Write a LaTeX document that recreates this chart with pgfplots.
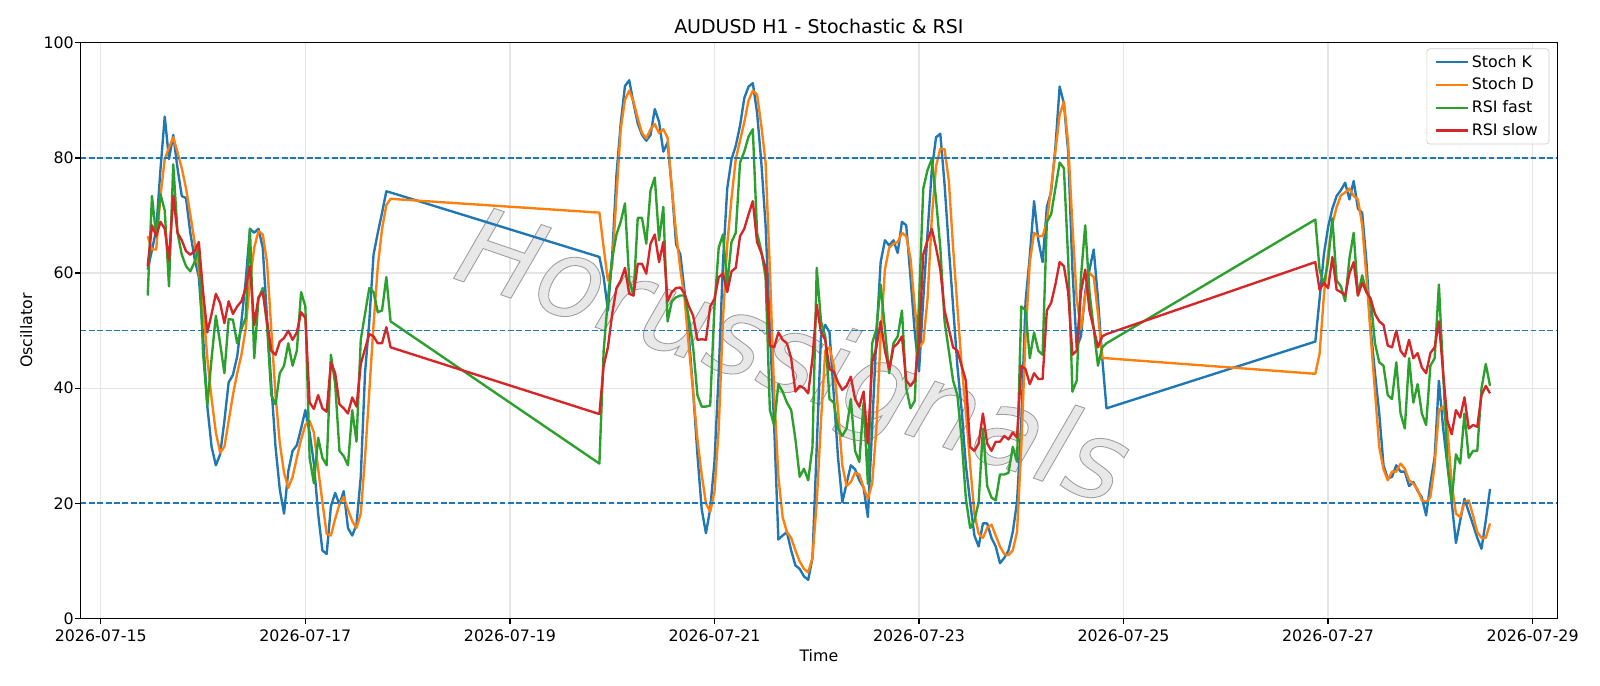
\documentclass[border=0pt]{standalone}
\usepackage{fontspec}
\setmainfont{DejaVu Sans}
\usepackage{pgfplots}
\usepackage{pgfplotstable}
\pgfplotsset{compat=1.18}
\definecolor{cK}{HTML}{1F77B4}
\definecolor{cD}{HTML}{FF7F0E}
\definecolor{cF}{HTML}{2CA02C}
\definecolor{cS}{HTML}{D62728}
% h = hours since 2026-07-15 00:00
\pgfplotstableread{
h K D F S
11 60.6 66.4 56.1 61.2
12 64.0 64.1 73.4 68.3
13 67.5 64.1 66.4 66.4
14 78.0 73.4 73.7 68.9
15 87.2 79.8 70.9 67.7
16 79.8 81.8 57.7 62.2
17 84.0 83.6 78.9 73.4
18 78.2 81.0 67.0 67.0
19 73.4 78.2 63.2 65.7
20 73.0 74.7 61.2 63.8
21 67.0 70.2 60.3 63.2
22 62.5 65.4 61.9 63.8
23 59.3 60.6 64.5 65.4
24 49.0 54.2 46.0 56.7
25 36.8 45.2 37.0 49.7
26 29.8 38.1 45.2 52.9
27 26.6 32.3 52.6 56.4
28 28.5 28.8 47.8 54.8
29 34.3 29.8 42.6 51.3
30 41.0 34.3 52.0 55.1
31 42.3 38.8 51.9 52.9
32 45.5 42.6 47.8 54.2
33 51.6 45.8 50.3 55.1
34 58.7 50.3 52.2 57.4
35 67.7 58.7 67.7 61.2
36 67.0 64.4 45.2 51.0
37 67.7 67.3 55.5 55.8
38 64.4 66.7 57.4 56.7
39 52.2 61.9 51.0 51.6
40 40.7 50.3 38.8 46.5
41 29.8 38.8 37.2 45.8
42 22.4 30.4 42.6 48.1
43 18.2 25.3 43.9 48.7
44 25.6 22.7 47.8 50.0
45 29.1 24.6 43.9 48.4
46 30.1 27.9 46.5 49.7
47 33.0 31.1 56.7 53.2
48 36.2 33.6 54.2 52.2
49 32.3 34.3 27.9 37.5
50 26.9 32.3 23.5 36.4
51 18.2 26.0 31.4 38.8
52 11.8 20.2 27.9 36.5
53 11.2 14.7 26.6 35.9
54 19.5 14.4 45.8 44.5
55 21.8 17.3 40.7 42.6
56 19.8 19.8 29.1 37.2
57 22.1 21.1 28.2 36.5
58 15.7 18.9 26.6 35.6
59 14.4 16.9 36.2 38.4
60 16.3 15.7 30.7 36.8
61 24.6 18.2 48.4 44.2
62 42.6 27.9 52.9 46.8
63 51.6 39.4 57.4 49.4
64 63.2 51.0 56.7 49.0
65 67.0 61.2 53.2 47.8
66 70.5 67.7 53.5 47.8
67 74.2 71.8 59.3 50.6
68 74.0 72.9 51.6 47.1
117 62.8 70.5 26.9 35.5
118 59.3 64.4 46.5 43.9
119 53.5 58.7 55.5 47.1
120 63.0 61.2 62.5 52.9
121 77.0 73.4 66.7 57.4
122 86.0 85.0 68.9 58.7
123 92.5 90.1 72.1 60.9
124 93.5 91.7 58.7 56.4
125 89.5 89.8 56.1 56.1
126 86.0 86.9 69.6 61.6
127 84.0 84.3 69.6 61.6
128 83.0 83.4 65.1 59.9
129 84.0 85.0 74.4 65.1
130 88.5 85.9 76.6 66.7
131 86.3 84.3 65.7 61.9
132 81.1 85.0 71.5 65.4
133 82.7 83.5 51.6 55.1
134 74.7 74.7 55.1 56.7
135 65.0 67.0 55.8 57.4
136 63.2 60.6 56.1 57.5
137 56.7 55.5 56.1 56.4
138 49.0 47.1 52.2 54.2
139 39.4 39.4 47.1 52.6
140 28.5 31.1 38.8 48.4
141 19.0 25.0 36.8 48.5
142 14.8 20.0 36.8 48.4
143 19.0 18.5 37.0 54.2
144 27.2 22.0 54.2 55.5
145 42.6 33.0 64.4 59.3
146 61.9 52.0 66.7 59.9
147 74.7 65.0 58.0 56.7
148 79.8 73.0 65.4 60.3
149 82.1 79.8 67.0 60.9
150 85.6 83.0 79.2 66.4
151 90.4 86.2 81.1 67.7
152 92.4 90.0 83.7 70.2
153 93.0 91.7 85.0 72.5
154 87.9 91.0 67.0 65.4
155 79.2 85.6 63.8 63.5
156 68.3 79.2 59.3 60.9
157 50.3 60.6 36.2 47.4
158 33.6 39.4 33.6 47.1
159 13.7 24.6 40.7 49.7
160 14.4 17.6 39.4 48.4
161 15.0 15.0 37.5 47.8
162 11.8 14.0 36.2 45.2
163 9.2 11.8 31.1 39.4
164 8.6 9.9 24.6 40.4
165 7.3 8.6 26.0 40.0
166 6.7 8.0 24.0 39.1
167 10.5 10.5 29.8 45.2
168 29.8 20.2 60.9 54.5
169 49.0 34.3 51.6 49.7
170 51.0 46.5 49.0 48.4
171 49.7 47.1 38.1 43.3
172 38.8 43.9 37.5 42.9
173 27.9 36.2 33.0 41.0
174 20.2 26.6 31.7 39.7
175 23.4 23.0 33.0 40.4
176 26.6 23.7 38.1 42.0
177 25.9 25.3 29.1 38.1
178 24.0 25.0 27.2 36.8
179 22.7 22.7 37.5 39.4
180 17.6 20.8 23.4 30.4
181 33.0 23.4 47.8 44.5
182 49.0 33.0 50.3 47.1
183 61.9 49.0 58.0 51.6
184 65.7 60.6 50.3 46.5
185 64.8 64.4 42.6 43.3
186 65.7 65.1 47.8 47.1
187 63.5 65.4 49.0 47.8
188 68.9 67.0 53.5 49.0
189 68.3 66.4 40.0 41.3
190 59.3 62.5 36.5 40.4
191 49.7 54.2 37.8 41.3
192 42.9 47.1 55.0 48.0
193 55.5 48.0 74.7 63.2
194 67.0 55.5 77.9 65.7
195 77.9 69.6 79.8 67.7
196 83.6 78.6 72.8 64.4
197 84.2 81.6 64.4 60.6
198 75.4 81.5 51.6 53.5
199 64.4 76.0 46.5 50.3
200 54.2 64.4 41.3 47.1
201 43.9 54.2 38.8 46.5
202 36.2 43.9 31.1 43.9
203 26.6 36.2 20.8 41.3
204 20.2 26.6 15.7 29.8
205 14.4 18.2 17.0 29.1
206 12.5 14.7 20.2 30.4
207 16.5 14.0 33.0 35.6
208 16.5 15.7 23.0 30.4
209 14.0 16.3 21.0 29.1
210 12.5 14.4 20.5 30.7
211 9.6 12.5 25.0 30.7
212 10.5 11.2 25.0 31.7
213 11.8 11.0 25.3 31.1
214 15.0 11.8 29.8 32.3
215 20.2 15.0 27.2 31.4
216 34.0 29.8 54.2 43.9
217 55.0 49.0 53.5 43.3
218 63.0 61.9 45.2 40.7
219 72.5 67.0 49.7 42.6
220 65.7 66.4 46.5 41.6
221 61.9 66.4 45.8 41.6
222 71.5 68.9 68.9 53.5
223 74.1 74.7 70.2 54.8
224 81.8 81.1 74.7 58.0
225 92.4 87.5 79.2 61.9
226 89.5 89.8 78.2 61.2
227 81.1 82.5 62.5 56.7
228 60.6 68.3 39.4 45.8
229 47.1 55.5 41.3 46.5
230 49.0 50.3 59.3 56.7
231 56.7 56.1 68.3 60.6
232 60.6 60.0 56.7 53.5
233 64.1 59.3 50.3 50.3
234 55.5 52.9 43.9 47.1
235 45.2 45.2 47.1 49.0
236 36.5 45.2 47.8 49.4
285 48.1 42.5 69.3 61.9
286 55.5 46.0 60.6 57.1
287 63.2 56.0 58.0 58.3
288 68.0 63.5 62.0 57.4
289 71.2 68.5 69.5 62.8
290 73.4 71.5 58.7 57.1
291 74.4 73.5 57.7 56.7
292 75.7 74.0 55.1 56.1
293 72.8 74.7 62.5 59.9
294 76.0 73.4 67.0 61.9
295 71.2 72.8 56.1 56.1
296 70.5 68.3 59.6 58.3
297 61.9 59.3 56.7 56.7
298 50.3 49.0 55.5 55.5
299 42.6 39.4 47.8 52.9
300 35.6 29.8 44.5 51.6
301 26.6 25.9 43.9 51.0
302 24.3 24.0 38.8 47.4
303 24.6 25.5 38.1 47.1
304 26.6 25.5 44.5 50.0
305 25.5 26.9 35.6 46.5
306 25.5 26.0 33.0 45.5
307 23.0 24.0 45.2 48.4
308 23.7 23.4 37.5 45.2
309 22.2 22.4 40.7 46.1
310 21.0 20.5 35.6 43.6
311 17.9 20.2 33.6 42.6
312 23.4 21.1 43.9 46.1
313 28.0 26.6 45.2 47.1
314 41.3 36.2 58.0 51.6
315 33.0 36.8 42.6 42.6
316 26.6 33.0 27.2 34.3
317 20.2 23.4 20.5 32.0
318 13.1 18.2 28.5 36.2
319 17.0 17.6 26.9 34.9
320 20.8 20.2 35.6 38.4
321 18.5 20.5 27.9 33.0
322 16.3 17.9 29.1 33.6
323 14.0 15.0 29.1 33.3
324 12.1 14.0 40.0 38.8
325 17.0 14.0 44.2 40.4
326 22.5 16.5 40.4 39.1
}\osc
\begin{document}
\begin{tikzpicture}
\useasboundingbox (-0.705in,-0.589in) rectangle (13.295in,5.411in);
\begin{axis}[
  at={(0,0)}, anchor=south west, scale only axis,
  width=12.92in, height=5.036in,
  xmin=-4.75, xmax=341.75, ymin=0, ymax=100,
  xtick={0,48,96,144,192,240,288,336},
  xticklabels={2026-07-15,2026-07-17,2026-07-19,2026-07-21,2026-07-23,2026-07-25,2026-07-27,2026-07-29},
  ytick={0,20,40,60,80,100},
  /pgf/number format/assume math mode=true,
  tick align=outside, tick pos=left,
  major tick length=3.5pt,
  every tick/.style={black, line width=0.8pt},
  axis line style={line width=0.8pt},
  ticklabel style={font=\fontsize{10}{12}\selectfont},
  yticklabel style={inner xsep=0.6pt},
  grid=major,
  major grid style={line width=0.8pt, color=black!10},
  title={AUDUSD H1 - Stochastic \& RSI},
  title style={font=\fontsize{12}{14}\selectfont, yshift=-4pt},
  xlabel={Time}, ylabel={Oscillator},
  label style={font=\fontsize{10}{12}\selectfont},
  xlabel style={yshift=1.5pt},
  ylabel style={yshift=3pt},
  legend style={at={(1,1)}, anchor=north east, xshift=-5pt, yshift=-3.5pt,
    draw=black!20, rounded corners=2pt, fill=white, fill opacity=0.8, text opacity=1,
    font=\fontsize{10}{12}\selectfont, row sep=1.3pt, inner xsep=5pt, inner ysep=2pt},
  legend cell align=left,
  legend image code/.code={\draw[#1, line width=1.5pt] (0pt,0pt) -- (20pt,0pt);},
  every axis plot/.append style={line width=1.5pt, line join=round},
]
\node[rotate=-19, font=\fontsize{69}{71}\selectfont\itshape, text=black!9]
  at (axis cs:162,44.4) {\special{pdf:literal direct 2 Tr 0.55 w 0.62 G}Horussignals};
\addplot[cK, no marks] table[x=h, y=K] {\osc};
\addlegendentry{Stoch K}
\addplot[cD, no marks] table[x=h, y=D] {\osc};
\addlegendentry{Stoch D}
\addplot[cF, no marks] table[x=h, y=F] {\osc};
\addlegendentry{RSI fast}
\addplot[cS, no marks] table[x=h, y=S] {\osc};
\addlegendentry{RSI slow}
\addplot[cK, line width=1pt, dash pattern=on 3.7pt off 1.6pt, forget plot] coordinates {(-4.75,80) (341.75,80)};
\addplot[cK, line width=1pt, dash pattern=on 3.7pt off 1.6pt, forget plot] coordinates {(-4.75,50) (341.75,50)};
\addplot[cK, line width=1pt, dash pattern=on 3.7pt off 1.6pt, forget plot] coordinates {(-4.75,20) (341.75,20)};
\end{axis}
\end{tikzpicture}
\end{document}
